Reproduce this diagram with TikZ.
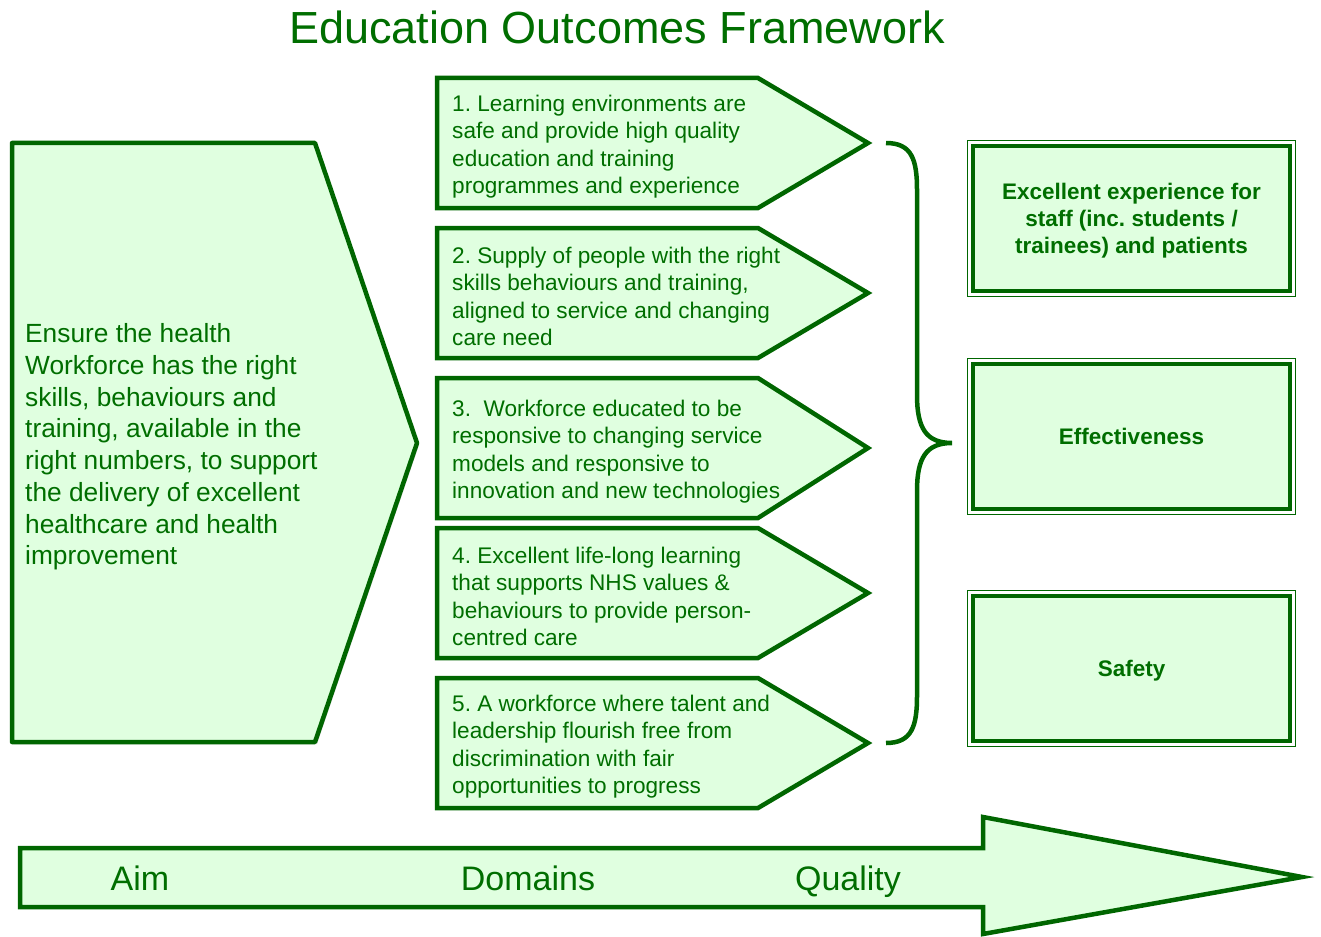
\documentclass[tikz,border=0pt]{standalone}
\usepackage{fontspec}
\setmainfont{Liberation Sans}
\usepackage{tikz}
\usetikzlibrary{shadows}
\definecolor{oegreen}{RGB}{0,102,0}
\definecolor{oetext}{RGB}{0,110,0}
\definecolor{oefill}{RGB}{224,255,224}
\frenchspacing

\begin{document}
\begin{tikzpicture}[x=1pt,y=-1pt]
  \tikzstyle{green line}=[draw=oegreen,fill=oefill,line width=4.5pt]
  \tikzstyle{domain text}=[text=oetext,align=left,anchor=west,inner sep=0pt,font=\fontsize{22.6}{27.4}\selectfont]
  \tikzstyle{quality node}=[draw=oegreen,fill=oefill,line width=4pt,outer sep=0pt,minimum width=317pt,minimum height=145pt,text depth=0pt,align=center,text=oetext,font=\bfseries\fontsize{22.5}{27.2}\selectfont]
  \tikzstyle{label text}=[text=oetext,anchor=base,font=\fontsize{34}{40}\selectfont]
  \useasboundingbox (0,0) rectangle (1321,936);

  \node[text=oetext,anchor=base,font=\fontsize{45}{54}\selectfont] (title) at (617,44) {Education Outcomes Framework};

  % aim
  \draw[green line,line join=round,drop shadow={shadow xshift=2pt,shadow yshift=-2pt,opacity=0.35}]
    (12,143) -- (315,143) -- (417,443) -- (315,742) -- (12,742) -- cycle;
  \node[domain text,font=\fontsize{26.3}{31.7}\selectfont] (aim) at (25,447)
    {Ensure the health\\Workforce has the right\\skills, behaviours and\\training, available in the\\right numbers, to support\\the delivery of excellent\\healthcare and health\\improvement};

  % domains
  \foreach \n/\top/\bot/\txt in {
      1/78/208/{1. Learning environments are\\safe and provide high quality\\education and training\\programmes and experience},
      2/228/358/{2. Supply of people with the right\\skills behaviours and training,\\aligned to service and changing\\care need},
      3/378/518/{3.\ \ Workforce educated to be\\responsive to changing service\\models and responsive to\\innovation and new technologies},
      4/528/658/{4. Excellent life-long learning\\that supports NHS values \&\\behaviours to provide person-\\centred care},
      5/678/808/{5. A workforce where talent and\\leadership flourish free from\\discrimination with fair\\opportunities to progress}} {
    \draw[green line] (437,\top) -- (758,\top) -- (868,{(\top+\bot)/2}) -- (758,\bot) -- (437,\bot) -- cycle;
    \node[domain text] (d\n) at (452,{(\top+\bot)/2+3.5}) {\txt};
  }

  % brace
  \coordinate (btop) at (886,143);
  \coordinate (btip) at (952,443);
  \coordinate (bbot) at (886,743);
  \draw[draw=oegreen,line width=4.5pt]
    (btop) .. controls (912,143) and (917,160) .. (917,190) -- (917,395)
    .. controls (917,428) and (926,443) .. (btip)
    .. controls (926,443) and (917,458) .. (917,491) -- (917,696)
    .. controls (917,726) and (912,743) .. (bbot);

  % quality
  \node[quality node] (q1) at (1131.5,218.5) {Excellent experience for\\staff (inc. students /\\trainees) and patients};
  \node[quality node] (q2) at (1131.5,436.5) {Effectiveness};
  \node[quality node] (q3) at (1131.5,668.5) {Safety};
  \foreach \q in {q1,q2,q3}
    \draw[draw=oegreen,line width=1.2pt] ([xshift=-5.5pt,yshift=5.5pt]\q.north west) rectangle ([xshift=5.5pt,yshift=-5.5pt]\q.south east);

  % bottom arrow
  \draw[green line] (20,848) -- (983,848) -- (983,817) -- (1302,877) -- (983,934) -- (983,907) -- (20,907) -- cycle;
  \node[label text] (laim) at (140,890) {Aim};
  \node[label text] (ldom) at (528,890) {Domains};
  \node[label text] (lqual) at (848,890) {Quality};
\end{tikzpicture}
\end{document}
